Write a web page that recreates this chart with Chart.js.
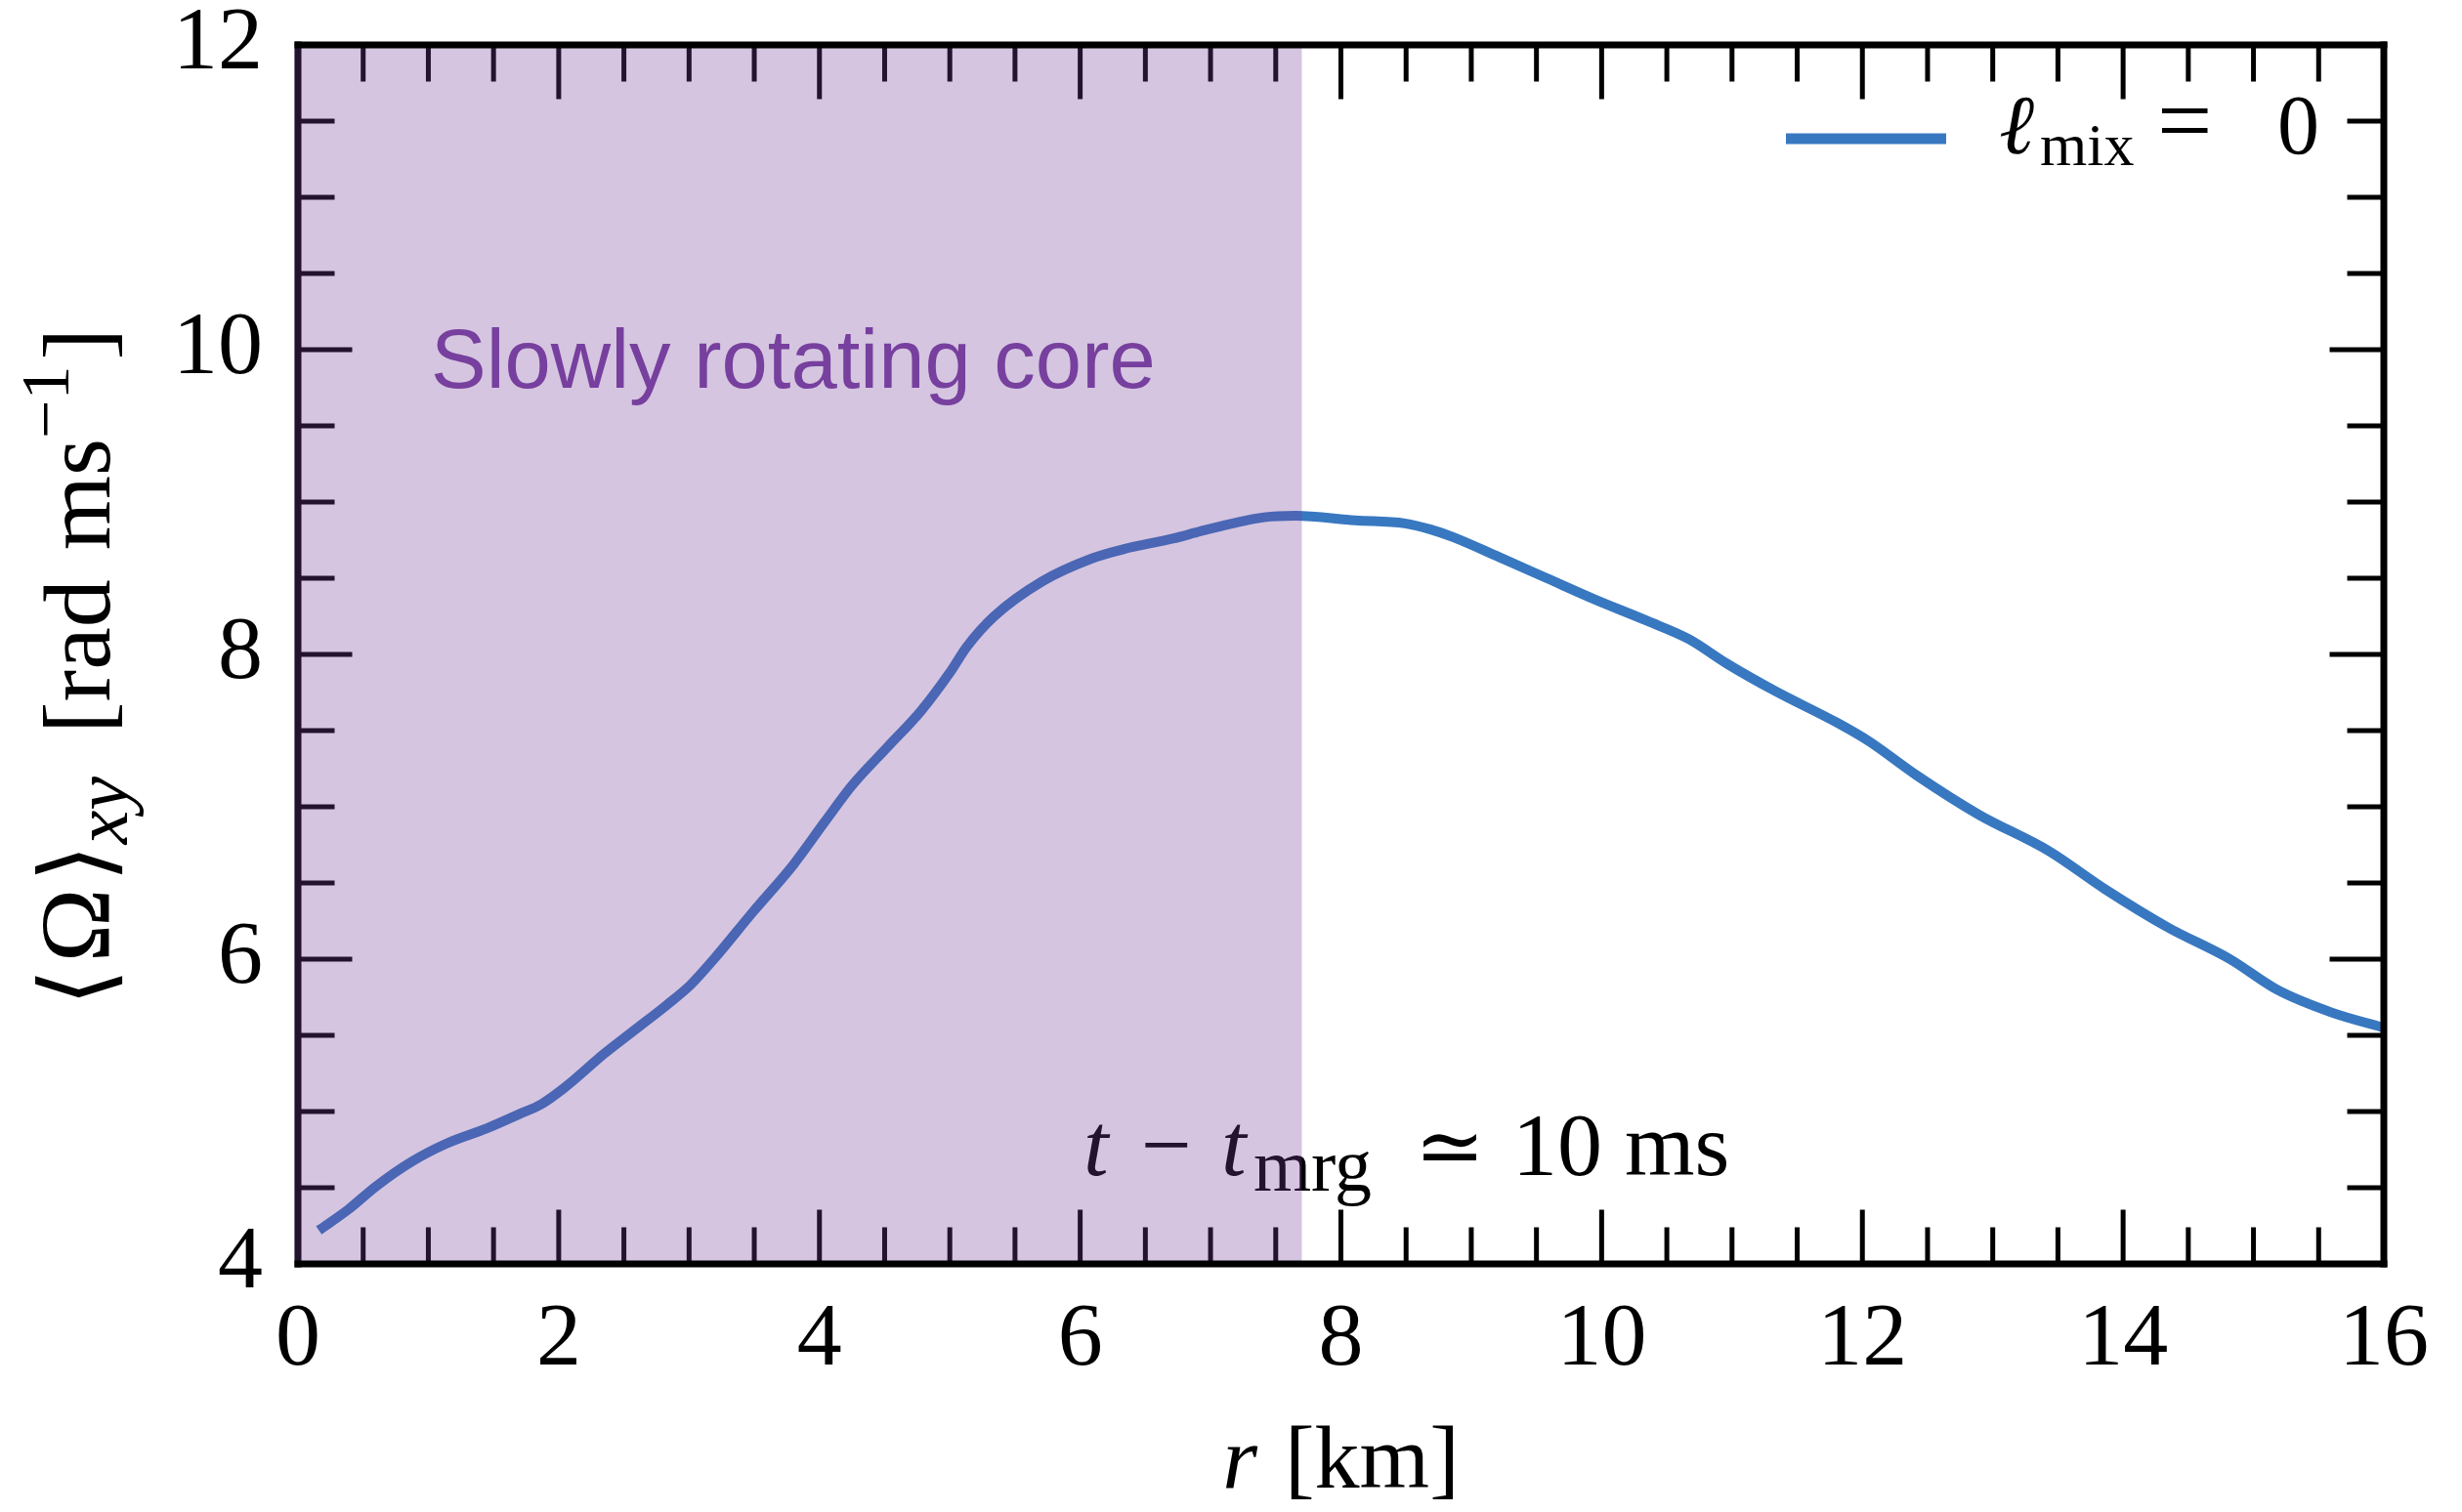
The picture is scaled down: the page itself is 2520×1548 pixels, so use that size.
<!DOCTYPE html>
<html>
<head>
<meta charset="utf-8">
<script src="https://cdn.jsdelivr.net/npm/chart.js@4.4.1/dist/chart.umd.min.js"></script>
<style>
  html, body { margin: 0; padding: 0; background: #ffffff; }
  #wrap { width: 2520px; height: 1548px; }
</style>
</head>
<body>
<div id="wrap"><canvas id="chart" width="2520" height="1548"></canvas></div>
<script>
// Radius samples [km]
const radiusKm = [0.16, 0.39, 0.6, 0.87, 1.14, 1.45, 1.69, 1.87, 2.05, 2.35, 2.59, 2.83, 3.01, 3.19, 3.49,
  3.80, 4.04, 4.25, 4.52, 4.78, 5.0, 5.13, 5.34, 5.71, 6.09, 6.33, 6.71, 6.93, 7.17, 7.41, 7.65,
  8.11, 8.49, 8.69, 8.86, 9.21, 9.58, 9.95, 10.35, 10.67, 10.96, 11.33, 11.81, 12.05, 12.41,
  12.89, 13.43, 13.86, 14.34, 14.82, 15.18, 15.60, 16.0];
// Azimuthally averaged angular velocity [rad/ms] for l_mix = 0
const omegaMix0 = [4.22, 4.36, 4.51, 4.67, 4.79, 4.89, 4.98, 5.05, 5.16, 5.38, 5.54, 5.70, 5.83, 6.00, 6.31,
  6.62, 6.90, 7.14, 7.39, 7.63, 7.88, 8.05, 8.25, 8.48, 8.63, 8.69, 8.76, 8.81, 8.86, 8.90, 8.91,
  8.88, 8.86, 8.82, 8.77, 8.64, 8.50, 8.36, 8.22, 8.10, 7.94, 7.76, 7.55, 7.43, 7.21,
  6.95, 6.71, 6.46, 6.21, 6.00, 5.80, 5.65, 5.55];
// Axis tick values
const xTicks = [0, 2, 4, 6, 8, 10, 12, 14, 16];
const yTicks = [4, 6, 8, 10, 12];
// Extent of the slowly rotating core [km]
const coreRange = [0, 7.7];

const SERIF = "'Liberation Serif', 'DejaVu Serif', serif";
const SYM = "'Liberation Serif', 'DejaVu Serif', 'DejaVu Sans', serif";
const SANS = "'Liberation Sans', Arial, sans-serif";
const LINE_COLOR = '#3878c0';

// Draw a run of text pieces one after another, starting at x.
function drawRun(ctx, parts, x, y) {
  let cx = x;
  for (const p of parts) {
    ctx.font = p.font;
    if (p.x !== undefined) cx = p.x;
    ctx.fillText(p.t, cx, y + (p.dy || 0));
    cx += ctx.measureText(p.t).width + (p.gap || 0);
  }
  return cx - x;
}
function runWidth(ctx, parts) {
  let w = 0;
  for (const p of parts) { ctx.font = p.font; w += ctx.measureText(p.t).width + (p.gap || 0); }
  return w;
}

const frame = {
  id: 'frame',
  afterDatasetsDraw(chart) {
    const ctx = chart.ctx;
    const a = chart.chartArea;
    const xs = chart.scales.x, ys = chart.scales.y;
    const BW = 7;
    ctx.save();

    // inward ticks on all four sides
    ctx.strokeStyle = '#000';
    ctx.lineWidth = 5;
    ctx.lineCap = 'butt';
    for (let v = xs.min + 0.5; v < xs.max; v += 0.5) {
      const px = xs.getPixelForValue(v);
      const len = (Math.abs(v % 2) < 1e-9 ? 52 : 34) + BW / 2;
      ctx.beginPath();
      ctx.moveTo(px, a.bottom); ctx.lineTo(px, a.bottom - len);
      ctx.moveTo(px, a.top); ctx.lineTo(px, a.top + len);
      ctx.stroke();
    }
    for (let v = ys.min + 0.5; v < ys.max; v += 0.5) {
      const py = ys.getPixelForValue(v);
      const len = (Math.abs(v % 2) < 1e-9 ? 52 : 34) + BW / 2;
      ctx.beginPath();
      ctx.moveTo(a.left, py); ctx.lineTo(a.left + len, py);
      ctx.moveTo(a.right, py); ctx.lineTo(a.right - len, py);
      ctx.stroke();
    }

    // snapshot time annotation
    ctx.fillStyle = '#000';
    ctx.textBaseline = 'alphabetic';
    ctx.textAlign = 'left';
    drawRun(ctx, [
      { t: 't', font: `italic 92px ${SERIF}`, x: 1109 },
      { t: '\u2212', font: `92px ${SYM}`, x: 1168 },
      { t: 't', font: `italic 92px ${SERIF}`, x: 1250 },
      { t: 'mrg', font: `76px ${SERIF}`, dy: 16, x: 1283 },
      { t: '\u2243', font: `86px ${SYM}`, x: 1448 },
      { t: '10 ms', font: `92px ${SERIF}`, x: 1548 }
    ], 0, 1203);

    // left spine, then the core band over it
    ctx.fillStyle = '#000';
    ctx.fillRect(a.left - BW / 2, a.top - BW / 2, BW, a.bottom - a.top + BW);
    const x0 = xs.getPixelForValue(coreRange[0]) - BW / 2;
    const x1 = xs.getPixelForValue(coreRange[1]);
    ctx.fillStyle = 'rgba(115, 62, 152, 0.3)';
    ctx.fillRect(x0, a.top, x1 - x0, a.bottom - a.top);

    // remaining spines
    ctx.fillStyle = '#000';
    ctx.fillRect(a.left - BW / 2, a.top - BW / 2, a.right - a.left + BW, BW);
    ctx.fillRect(a.left - BW / 2, a.bottom - BW / 2, a.right - a.left + BW, BW);
    ctx.fillRect(a.right - BW / 2, a.top - BW / 2, BW, a.bottom - a.top + BW);

    // band label
    ctx.fillStyle = '#773f9e';
    ctx.font = `85px ${SANS}`;
    ctx.fillText('Slowly rotating core', 441, 397);

    // legend
    ctx.strokeStyle = LINE_COLOR;
    ctx.lineWidth = 11;
    ctx.beginPath();
    ctx.moveTo(1828, 142); ctx.lineTo(1992, 142);
    ctx.stroke();
    ctx.fillStyle = '#000';
    drawRun(ctx, [
      { t: '\u2113', font: `italic 86px ${SYM}`, x: 2046 },
      { t: 'mix', font: `62px ${SERIF}`, dy: 12, x: 2088 },
      { t: '=', font: `100px ${SERIF}`, x: 2208 },
      { t: '0', font: `86px ${SERIF}`, x: 2331 }
    ], 0, 157);

    ctx.restore();
  },
  afterDraw(chart) {
    const ctx = chart.ctx;
    const a = chart.chartArea;
    ctx.save();
    ctx.fillStyle = '#000';
    ctx.textBaseline = 'alphabetic';
    ctx.textAlign = 'left';

    // x-axis title
    const xt = [
      { t: 'r', font: `italic 92px ${SERIF}`, gap: 28 },
      { t: '[km]', font: `92px ${SERIF}` }
    ];
    const xw = runWidth(ctx, xt);
    drawRun(ctx, xt, (a.left + a.right) / 2 - xw / 2, 1523);

    // y-axis title, rotated
    const yt = [
      { t: '\u27E8', font: `100px ${SYM}`, gap: 6 },
      { t: '\u03A9', font: `102px ${SERIF}`, gap: 6 },
      { t: '\u27E9', font: `100px ${SYM}` },
      { t: 'xy', font: `italic 78px ${SERIF}`, dy: 18, gap: 44 },
      { t: '[rad', font: `98px ${SERIF}`, gap: 30 },
      { t: 'ms', font: `98px ${SERIF}` },
      { t: '\u22121', font: `70px ${SYM}`, dy: -42, gap: 6 },
      { t: ']', font: `98px ${SERIF}` }
    ];
    const yw = runWidth(ctx, yt);
    ctx.translate(112, 683);
    ctx.rotate(-Math.PI / 2);
    drawRun(ctx, yt, -yw / 2, 0);
    ctx.restore();
  }
};

const ctx = document.getElementById('chart').getContext('2d');
new Chart(ctx, {
  type: 'line',
  data: {
    datasets: [{
      label: '\u2113mix = 0',
      data: radiusKm.map((r, i) => ({ x: r, y: omegaMix0[i] })),
      borderColor: LINE_COLOR,
      borderWidth: 10,
      pointRadius: 0,
      fill: false,
      cubicInterpolationMode: 'monotone'
    }]
  },
  options: {
    responsive: false,
    animation: false,
    devicePixelRatio: 1,
    layout: { padding: { top: 46, right: 80, left: 0, bottom: 0 } },
    plugins: { legend: { display: false }, tooltip: { enabled: false } },
    scales: {
      x: {
        type: 'linear', min: 0, max: 16,
        afterBuildTicks: s => { s.ticks = xTicks.map(v => ({ value: v })); },
        ticks: { font: { family: SERIF, size: 92 }, color: '#000', padding: 24, maxRotation: 0 },
        grid: { display: false, drawTicks: false },
        border: { display: false },
        afterFit: s => { s.height = 254; s.paddingLeft = 0; s.paddingRight = 0; }
      },
      y: {
        type: 'linear', min: 4, max: 12,
        afterBuildTicks: s => { s.ticks = yTicks.map(v => ({ value: v })); },
        ticks: { font: { family: SERIF, size: 92 }, color: '#000', padding: 36 },
        grid: { display: false, drawTicks: false },
        border: { display: false },
        afterFit: s => { s.width = 305; s.paddingTop = 0; s.paddingBottom = 0; }
      }
    }
  },
  plugins: [frame]
});
</script>
</body>
</html>
